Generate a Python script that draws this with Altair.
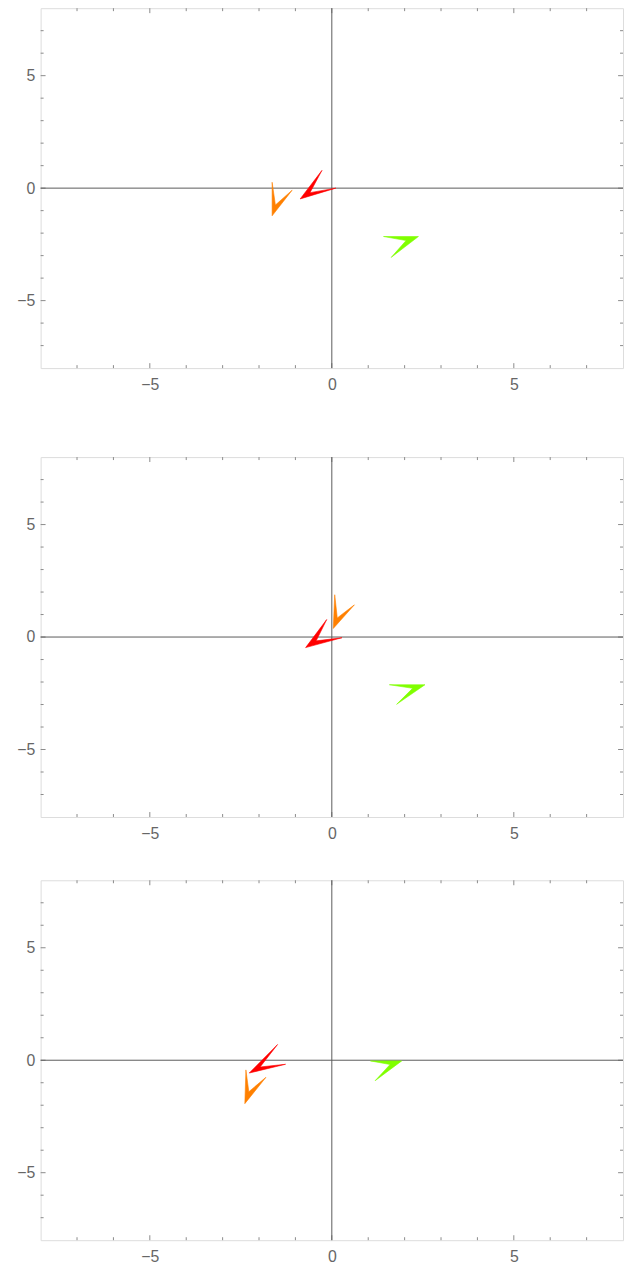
import altair as alt
import pandas as pd

# ---------------- data ----------------
BOIDS = ["red", "orange", "green"]
COLORS = ["#ff0000", "#ff8000", "#80ff00"]

# each boid outline: wing tip A, nose V, wing tip B, inner notch N
P1_X = {"red": [-0.27, -0.87, 0.11, -0.60],
        "orange": [-1.64, -1.64, -1.09, -1.55],
        "green": [1.42, 2.38, 1.63, 2.04]}
P1_Y = {"red": [0.79, -0.48, 0.00, -0.20],
        "orange": [0.26, -1.23, -0.09, -0.75],
        "green": [-2.15, -2.15, -3.08, -2.33]}

P2_X = {"red": [-0.14, -0.72, 0.28, -0.43],
        "orange": [0.08, 0.04, 0.62, 0.15],
        "green": [1.58, 2.56, 1.78, 2.22]}
P2_Y = {"red": [0.78, -0.47, -0.03, -0.17],
        "orange": [1.88, 0.38, 1.43, 0.85],
        "green": [-2.12, -2.12, -2.99, -2.28]}

P3_X = {"red": [-1.49, -2.27, -1.27, -1.97],
        "orange": [-2.36, -2.39, -1.81, -2.28],
        "green": [1.06, 1.92, 1.19, 1.60]}
P3_Y = {"red": [0.70, -0.57, -0.18, -0.30],
        "orange": [-0.43, -1.93, -0.76, -1.40],
        "green": [-0.03, -0.03, -0.91, -0.19]}

DOMAIN = [-8, 8]
MAJOR = [-5, 0, 5]
MINOR = [-7, -6, -4, -3, -2, -1, 1, 2, 3, 4, 6, 7]

# ---------------- style ----------------
W, H = 589, 364
FRAME = "#a0a0a0"
TICK = "#8a8a8a"
ORIGIN = "#5a5a5a"
FONT = "Liberation Sans"

xs = alt.Scale(domain=DOMAIN, nice=False, zero=False)
ys = alt.Scale(domain=DOMAIN, nice=False, zero=False)
XAX = alt.Axis(values=MAJOR, title=None, ticks=False, tickSize=0, domain=False,
               grid=False, labelPadding=9, labelFontSize=16, labelColor="#666666",
               labelFont=FONT)
YAX = alt.Axis(values=MAJOR, title=None, ticks=False, tickSize=0, domain=False,
               grid=False, labelPadding=6, labelFontSize=16, labelColor="#666666",
               labelFont=FONT)


def boid_frame(px, py):
    rows = []
    for b in BOIDS:
        xsv, ysv = px[b], py[b]
        pts = list(zip(xsv, ysv)) + [(xsv[0], ysv[0])]
        for i, (x, y) in enumerate(pts):
            rows.append({"boid": b, "i": i, "x": x, "y": y})
    return pd.DataFrame(rows)


def tick_layers(vals, L):
    df = pd.DataFrame({"v": vals})
    base = alt.Chart(df).mark_rule(color=TICK, strokeWidth=1)
    return [
        base.encode(x=alt.X("v:Q", scale=xs, axis=XAX), y=alt.value(H), y2=alt.value(H - L)),
        base.encode(x=alt.X("v:Q", scale=xs, axis=XAX), y=alt.value(0), y2=alt.value(L)),
        base.encode(y=alt.Y("v:Q", scale=ys, axis=YAX), x=alt.value(0), x2=alt.value(L)),
        base.encode(y=alt.Y("v:Q", scale=ys, axis=YAX), x=alt.value(W), x2=alt.value(W - L)),
    ]


def panel(px, py):
    zero = pd.DataFrame({"v": [0]})
    vline = alt.Chart(zero).mark_rule(color=ORIGIN, strokeWidth=1).encode(
        x=alt.X("v:Q", scale=xs, axis=XAX), y=alt.value(0), y2=alt.value(H))
    hline = alt.Chart(zero).mark_rule(color=ORIGIN, strokeWidth=1).encode(
        y=alt.Y("v:Q", scale=ys, axis=YAX), x=alt.value(0), x2=alt.value(W))
    cscale = alt.Scale(domain=BOIDS, range=COLORS)
    boids = alt.Chart(boid_frame(px, py)).mark_line(filled=True, strokeWidth=0.6).encode(
        x=alt.X("x:Q", scale=xs, axis=XAX),
        y=alt.Y("y:Q", scale=ys, axis=YAX),
        color=alt.Color("boid:N", scale=cscale, legend=None),
        stroke=alt.Stroke("boid:N", scale=cscale, legend=None),
        order=alt.Order("i:Q"),
    )
    layers = tick_layers(MINOR, 3) + tick_layers(MAJOR, 5) + [vline, hline, boids]
    return alt.layer(*layers).properties(width=W, height=H)


p1 = panel(P1_X, P1_Y)
p2 = panel(P2_X, P2_Y)
p3 = panel(P3_X, P3_Y)

chart = alt.vconcat(p1, alt.vconcat(p2, p3, spacing=37), spacing=63).properties(
    padding={"left": 8, "top": -8, "right": 0, "bottom": 0},
    autosize=alt.AutoSizeParams(type="pad"),
).configure_view(stroke=FRAME, strokeWidth=1).configure(background="white")

chart.save("out.html", embed_options={"renderer": "svg", "actions": False})
